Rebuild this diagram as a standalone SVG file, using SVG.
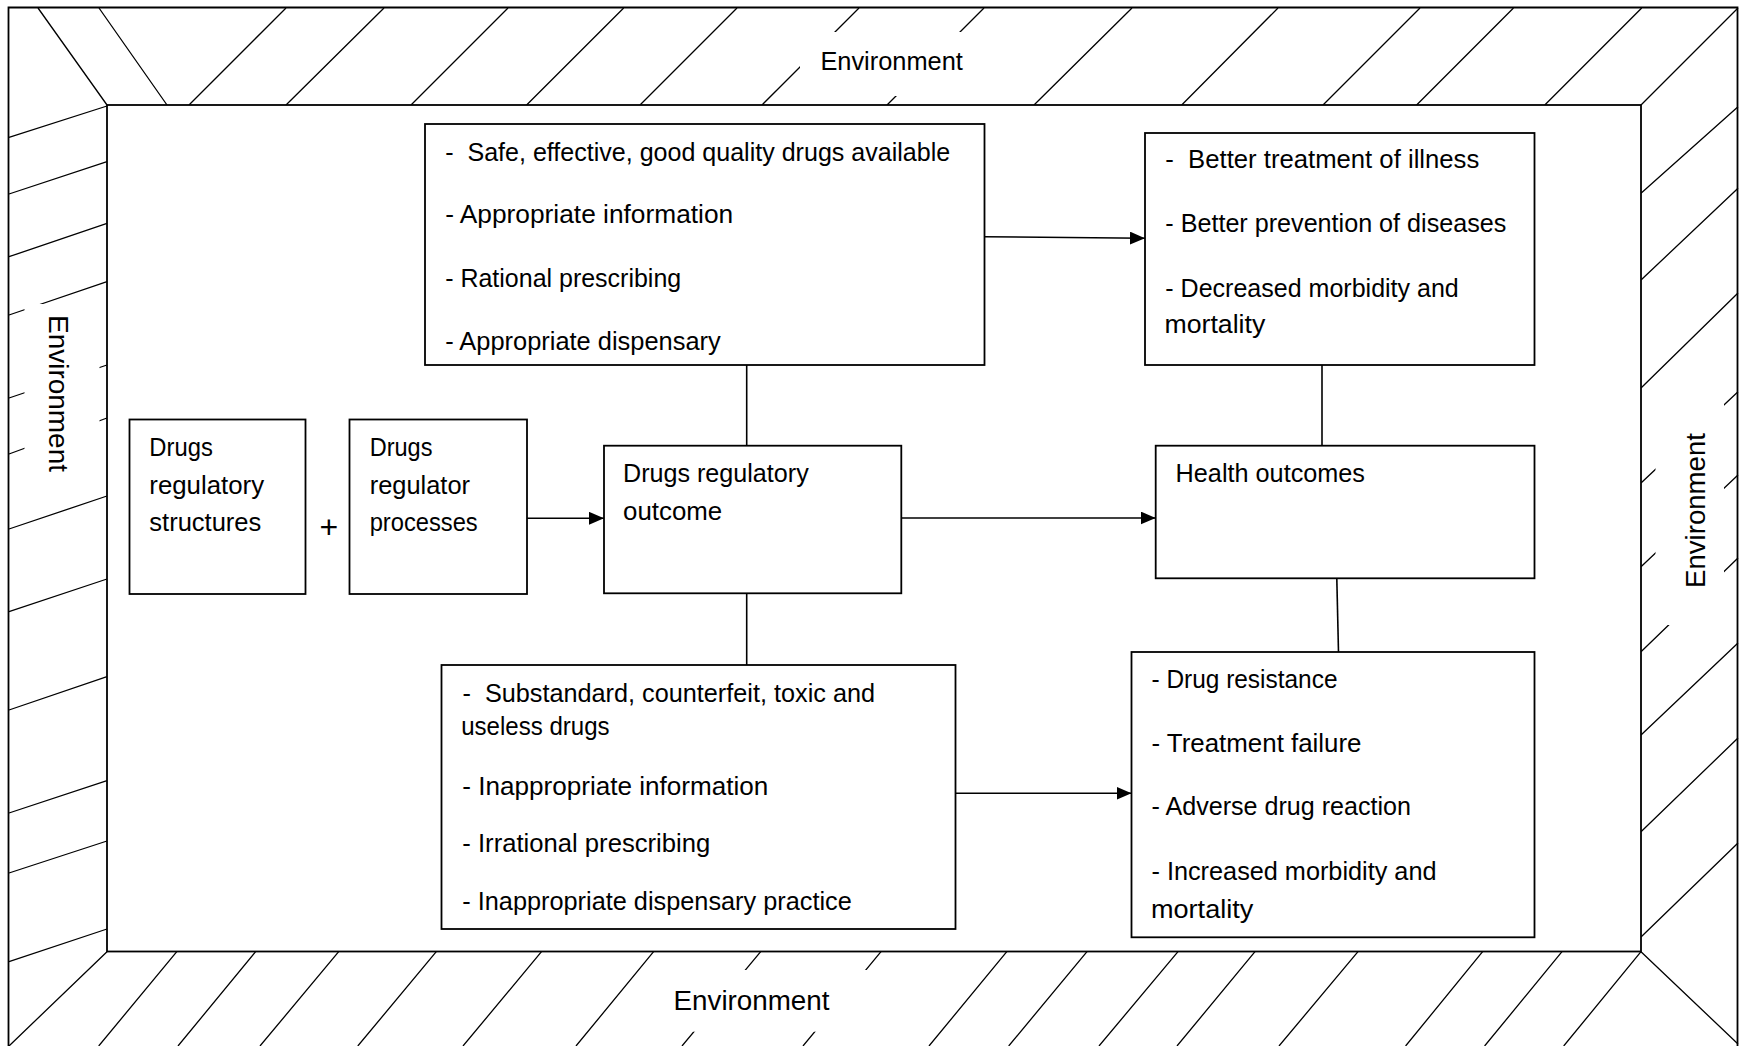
<svg xmlns="http://www.w3.org/2000/svg" width="1739" height="1046" viewBox="0 0 1739 1046">
<defs>
<style>
.hatch{stroke:#000;stroke-width:1.3;fill:none}
.frame{stroke:#000;stroke-width:1.8;fill:none}
.inner{stroke:#000;stroke-width:1.8;fill:#fff}
.mask{fill:#fff;stroke:none}
.box{fill:#fff;stroke:#000;stroke-width:1.8}
.t{font-family:"Liberation Sans",Arial,sans-serif;font-size:25px;fill:#000;white-space:pre}
.env{font-family:"Liberation Sans",Arial,sans-serif;fill:#000}
.conn{stroke:#000;stroke-width:1.6;fill:none}
.arrow{marker-end:url(#arr)}
</style>
<marker id="arr" markerWidth="15" markerHeight="13" refX="15" refY="6.5" orient="auto" markerUnits="userSpaceOnUse">
<path d="M0,0 L15,6.5 L0,13 z" fill="#000"/>
</marker>
</defs>
<rect x="0" y="0" width="1739" height="1046" fill="#fff"/>

<g id="environment">
<path class="hatch" d="M38,8 L107,105 M99,8 L167,105 M286,8 L189,105 M384,8 L286,105 M508,8 L411,105 M623.7,8 L526.6,105 M737,8 L640,105 M859,8 L762,105 M984,8 L887,105 M1132,8 L1034,105 M1278,8 L1181.7,105 M1420,8 L1323,105 M1513.5,8 L1416.6,105 M1641.7,8 L1544.8,105 M1738,8 L1641,105"/>
<path class="hatch" d="M9,137.3 L107,106 M9,194 L107,161.7 M9,256.7 L107,223.3 M9,315 L107,281.7 M9,398 L107,365 M9,454 L107,418 M9,529 L107,496 M9,611.7 L107,579 M9,710 L107,676.7 M9,813 L107,780.7 M9,873 L107,841 M9,961.7 L107,929 M9,1046 L107,951.7"/>
<path class="hatch" d="M1641,193.3 L1738,106.7 M1641,280 L1738,188.3 M1641,388 L1738,293 M1641,483 L1738,391.7 M1641,566.7 L1738,475 M1641,651.7 L1738,558 M1641,735 L1738,643 M1641,831.7 L1738,738 M1641,937 L1738,843 M1641,951.7 L1738,1044"/>
<path class="hatch" d="M176.8,951.7 L98.7,1046 M255.6,951.7 L178,1046 M338.7,951.7 L260,1046 M436.3,951.7 L357.8,1046 M541.5,951.7 L463,1046 M653.6,951.7 L576,1046 M760.7,951.7 L682,1046 M881,951.7 L803,1046 M1006.8,951.7 L929,1046 M1087,951.7 L1008.7,1046 M1178,951.7 L1099,1046 M1255,951.7 L1177,1046 M1358,951.7 L1279,1046 M1482.6,951.7 L1405.6,1046 M1562,951.7 L1484.6,1046 M1641,951.7 L1563.7,1046"/>
<path class="frame" d="M8.5,1047 V7.5 H1737.5 V1047"/>
<rect class="mask" x="800" y="32" width="190" height="64"/>
<rect class="mask" x="662" y="970" width="214" height="61.7"/>
<rect class="mask" x="24.5" y="304" width="75" height="185"/>
<rect class="mask" x="1655.5" y="385" width="68.5" height="240"/>
<text class="env" x="820.4" y="70" font-size="25.5" textLength="142.4" lengthAdjust="spacingAndGlyphs">Environment</text>
<text class="env" x="673.5" y="1010" font-size="27.5" textLength="156" lengthAdjust="spacingAndGlyphs">Environment</text>
<text class="env" transform="translate(49,315) rotate(90)" x="0" y="0" font-size="27.5" textLength="157" lengthAdjust="spacingAndGlyphs">Environment</text>
<text class="env" transform="translate(1705,588) rotate(-90)" x="0" y="0" font-size="27.5" textLength="155" lengthAdjust="spacingAndGlyphs">Environment</text>
<rect class="inner" x="107" y="105" width="1534" height="846.5"/>
</g>

<g id="connectors">
<path class="conn arrow" d="M984,236.7 L1145,238.3"/>
<path class="conn arrow" d="M527,518.3 L604,518.3"/>
<path class="conn arrow" d="M901.3,518 L1155.7,518"/>
<path class="conn arrow" d="M955.5,793.3 L1131.5,793.3"/>
<path class="conn" d="M746.7,365 V445.7"/>
<path class="conn" d="M746.7,593.3 V665"/>
<path class="conn" d="M1322,365 V445.7"/>
<path class="conn" d="M1336.8,578.3 L1338.5,652"/>
</g>

<g id="node-good-outcomes">
<rect class="box" x="425" y="124" width="559.5" height="241"/>
<text class="t" x="445.2" y="161" textLength="505" lengthAdjust="spacingAndGlyphs">-  Safe, effective, good quality drugs available</text>
<text class="t" x="445.2" y="223" textLength="288" lengthAdjust="spacingAndGlyphs">- Appropriate information</text>
<text class="t" x="445.2" y="286.7" textLength="236" lengthAdjust="spacingAndGlyphs">- Rational prescribing</text>
<text class="t" x="445.2" y="350" textLength="275.5" lengthAdjust="spacingAndGlyphs">- Appropriate dispensary</text>
</g>

<g id="node-better-health">
<rect class="box" x="1145" y="133" width="389.5" height="232"/>
<text class="t" x="1165.3" y="168" textLength="314" lengthAdjust="spacingAndGlyphs">-  Better treatment of illness</text>
<text class="t" x="1165.3" y="231.7" textLength="341" lengthAdjust="spacingAndGlyphs">- Better prevention of diseases</text>
<text class="t" x="1165.3" y="296.7" textLength="293.5" lengthAdjust="spacingAndGlyphs">- Decreased morbidity and</text>
<text class="t" x="1164.5" y="333" textLength="100.8" lengthAdjust="spacingAndGlyphs">mortality</text>
</g>

<g id="node-structures">
<rect class="box" x="129.5" y="419.5" width="176" height="174.5"/>
<text class="t" x="149.3" y="456" textLength="63.5" lengthAdjust="spacingAndGlyphs">Drugs</text>
<text class="t" x="149.3" y="494" textLength="114.8" lengthAdjust="spacingAndGlyphs">regulatory</text>
<text class="t" x="149.3" y="531" textLength="112" lengthAdjust="spacingAndGlyphs">structures</text>
</g>

<g id="plus">
<text class="t" x="319.5" y="538" style="font-size:32px">+</text>
</g>

<g id="node-processes">
<rect class="box" x="349.5" y="419.5" width="177.5" height="174.5"/>
<text class="t" x="369.7" y="456" textLength="62.8" lengthAdjust="spacingAndGlyphs">Drugs</text>
<text class="t" x="369.7" y="494" textLength="100.3" lengthAdjust="spacingAndGlyphs">regulator</text>
<text class="t" x="369.7" y="531" textLength="108" lengthAdjust="spacingAndGlyphs">processes</text>
</g>

<g id="node-regulatory-outcome">
<rect class="box" x="604" y="445.7" width="297.3" height="147.6"/>
<text class="t" x="623" y="481.7" textLength="185.7" lengthAdjust="spacingAndGlyphs">Drugs regulatory</text>
<text class="t" x="623" y="520" textLength="99.2" lengthAdjust="spacingAndGlyphs">outcome</text>
</g>

<g id="node-health-outcomes">
<rect class="box" x="1155.7" y="445.7" width="378.8" height="132.6"/>
<text class="t" x="1175.6" y="481.7" textLength="189.4" lengthAdjust="spacingAndGlyphs">Health outcomes</text>
</g>

<g id="node-bad-outcomes">
<rect class="box" x="441.5" y="665" width="514" height="264"/>
<text class="t" x="462.5" y="702" textLength="412.5" lengthAdjust="spacingAndGlyphs">-  Substandard, counterfeit, toxic and</text>
<text class="t" x="461.2" y="735" textLength="148.4" lengthAdjust="spacingAndGlyphs">useless drugs</text>
<text class="t" x="462.3" y="795" textLength="306" lengthAdjust="spacingAndGlyphs">- Inappropriate information</text>
<text class="t" x="462.3" y="851.7" textLength="248" lengthAdjust="spacingAndGlyphs">- Irrational prescribing</text>
<text class="t" x="462.3" y="910" textLength="389.5" lengthAdjust="spacingAndGlyphs">- Inappropriate dispensary practice</text>
</g>

<g id="node-poor-health">
<rect class="box" x="1131.5" y="652" width="403" height="285.3"/>
<text class="t" x="1151.5" y="688" textLength="186" lengthAdjust="spacingAndGlyphs">- Drug resistance</text>
<text class="t" x="1151.5" y="751.7" textLength="210" lengthAdjust="spacingAndGlyphs">- Treatment failure</text>
<text class="t" x="1151.5" y="815" textLength="259.5" lengthAdjust="spacingAndGlyphs">- Adverse drug reaction</text>
<text class="t" x="1151.5" y="880" textLength="285" lengthAdjust="spacingAndGlyphs">- Increased morbidity and</text>
<text class="t" x="1151" y="918.3" textLength="102.3" lengthAdjust="spacingAndGlyphs">mortality</text>
</g>
</svg>
